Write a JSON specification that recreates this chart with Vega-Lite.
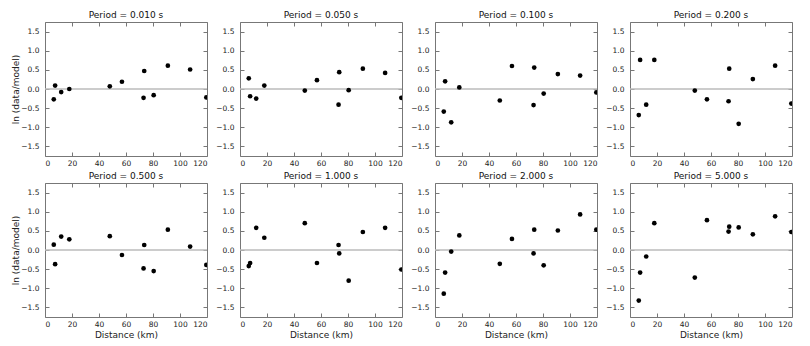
{
  "$schema": "https://vega.github.io/schema/vega-lite/v6.json",
  "background": "white",
  "padding": {"left": 11, "top": 10, "right": 5, "bottom": 5},
  "datasets": {
    "pts": [
      {"period":"0.010","d":6.5,"v":-0.27},{"period":"0.010","d":7.5,"v":0.09},{"period":"0.010","d":12,"v":-0.08},{"period":"0.010","d":18,"v":0.0},{"period":"0.010","d":48,"v":0.07},{"period":"0.010","d":57,"v":0.19},{"period":"0.010","d":73,"v":-0.23},{"period":"0.010","d":73.5,"v":0.47},{"period":"0.010","d":80.5,"v":-0.16},{"period":"0.010","d":91,"v":0.61},{"period":"0.010","d":107.5,"v":0.51},{"period":"0.010","d":119.5,"v":-0.22},
      {"period":"0.050","d":6.5,"v":0.28},{"period":"0.050","d":7.5,"v":-0.19},{"period":"0.050","d":12,"v":-0.25},{"period":"0.050","d":18,"v":0.09},{"period":"0.050","d":48,"v":-0.04},{"period":"0.050","d":57,"v":0.23},{"period":"0.050","d":73,"v":-0.41},{"period":"0.050","d":73.5,"v":0.44},{"period":"0.050","d":80.5,"v":-0.03},{"period":"0.050","d":91,"v":0.53},{"period":"0.050","d":107.5,"v":0.42},{"period":"0.050","d":119.5,"v":-0.23},
      {"period":"0.100","d":6.5,"v":-0.59},{"period":"0.100","d":7.5,"v":0.2},{"period":"0.100","d":12,"v":-0.87},{"period":"0.100","d":18,"v":0.04},{"period":"0.100","d":48,"v":-0.3},{"period":"0.100","d":57,"v":0.6},{"period":"0.100","d":73,"v":-0.42},{"period":"0.100","d":73.5,"v":0.56},{"period":"0.100","d":80.5,"v":-0.12},{"period":"0.100","d":91,"v":0.39},{"period":"0.100","d":107.5,"v":0.35},{"period":"0.100","d":119.5,"v":-0.09},
      {"period":"0.200","d":6.5,"v":-0.68},{"period":"0.200","d":7.5,"v":0.76},{"period":"0.200","d":12,"v":-0.41},{"period":"0.200","d":18,"v":0.76},{"period":"0.200","d":48,"v":-0.04},{"period":"0.200","d":57,"v":-0.27},{"period":"0.200","d":73,"v":-0.32},{"period":"0.200","d":73.5,"v":0.53},{"period":"0.200","d":80.5,"v":-0.91},{"period":"0.200","d":91,"v":0.26},{"period":"0.200","d":107.5,"v":0.61},{"period":"0.200","d":119.5,"v":-0.38},
      {"period":"0.500","d":6.5,"v":0.14},{"period":"0.500","d":7.5,"v":-0.37},{"period":"0.500","d":12,"v":0.35},{"period":"0.500","d":18,"v":0.28},{"period":"0.500","d":48,"v":0.36},{"period":"0.500","d":57,"v":-0.13},{"period":"0.500","d":73,"v":-0.48},{"period":"0.500","d":73.5,"v":0.13},{"period":"0.500","d":80.5,"v":-0.55},{"period":"0.500","d":91,"v":0.53},{"period":"0.500","d":107.5,"v":0.09},{"period":"0.500","d":119.5,"v":-0.39},
      {"period":"1.000","d":6.5,"v":-0.42},{"period":"1.000","d":7.5,"v":-0.34},{"period":"1.000","d":12,"v":0.58},{"period":"1.000","d":18,"v":0.32},{"period":"1.000","d":48,"v":0.7},{"period":"1.000","d":57,"v":-0.34},{"period":"1.000","d":73,"v":0.13},{"period":"1.000","d":73.5,"v":-0.09},{"period":"1.000","d":80.5,"v":-0.8},{"period":"1.000","d":91,"v":0.47},{"period":"1.000","d":107.5,"v":0.58},{"period":"1.000","d":119.5,"v":-0.51},
      {"period":"2.000","d":6.5,"v":-1.14},{"period":"2.000","d":7.5,"v":-0.59},{"period":"2.000","d":12,"v":-0.04},{"period":"2.000","d":18,"v":0.38},{"period":"2.000","d":48,"v":-0.36},{"period":"2.000","d":57,"v":0.29},{"period":"2.000","d":73,"v":-0.09},{"period":"2.000","d":73.5,"v":0.53},{"period":"2.000","d":80.5,"v":-0.4},{"period":"2.000","d":91,"v":0.51},{"period":"2.000","d":107.5,"v":0.93},{"period":"2.000","d":119.5,"v":0.53},
      {"period":"5.000","d":6.5,"v":-1.32},{"period":"5.000","d":7.5,"v":-0.59},{"period":"5.000","d":12,"v":-0.17},{"period":"5.000","d":18,"v":0.7},{"period":"5.000","d":48,"v":-0.72},{"period":"5.000","d":57,"v":0.78},{"period":"5.000","d":73,"v":0.48},{"period":"5.000","d":73.5,"v":0.61},{"period":"5.000","d":80.5,"v":0.59},{"period":"5.000","d":91,"v":0.41},{"period":"5.000","d":107.5,"v":0.88},{"period":"5.000","d":119.5,"v":0.47}
    ]
  },
  "columns": 4,
  "spacing": {"row": 27, "column": 33},
  "bounds": "flush",
  "concat": [
        {"width":162,"height":134,"title":"Period = 0.010 s","layer":[
          {"data":{"values":[{}]},"mark":{"type":"rule","color":"#bbbbbb","strokeWidth":1.5},"encoding":{"y":{"datum":0,"type":"quantitative","axis":null}}},
          {"data":{"name":"pts"},"transform":[{"filter":"datum.period==='0.010'"}],"mark":{"type":"circle","color":"black","size":22,"opacity":1,"clip":true},"encoding":{"x":{"field":"d","type":"quantitative","scale":{"domain":[0,120],"nice":false},"axis":{"orient":"bottom","values":[0,20,40,60,80,100,120],"title":null}},"y":{"field":"v","type":"quantitative","scale":{"domain":[-1.75,1.75],"nice":false},"axis":{"orient":"left","values":[-1.5,-1,-0.5,0,0.5,1,1.5],"format":".1f","title":"ln (data/model)"}}}},
          {"data":{"name":"pts"},"transform":[{"filter":"datum.period==='0.010'"}],"mark":{"type":"circle","opacity":0},"encoding":{"x":{"field":"d","type":"quantitative","axis":{"orient":"top","values":[0,20,40,60,80,100,120],"labels":false,"title":null}},"y":{"field":"v","type":"quantitative","axis":{"orient":"right","values":[-1.5,-1,-0.5,0,0.5,1,1.5],"labels":false,"title":null}}}}
        ]},
        {"width":162,"height":134,"title":"Period = 0.050 s","layer":[
          {"data":{"values":[{}]},"mark":{"type":"rule","color":"#bbbbbb","strokeWidth":1.5},"encoding":{"y":{"datum":0,"type":"quantitative","axis":null}}},
          {"data":{"name":"pts"},"transform":[{"filter":"datum.period==='0.050'"}],"mark":{"type":"circle","color":"black","size":22,"opacity":1,"clip":true},"encoding":{"x":{"field":"d","type":"quantitative","scale":{"domain":[0,120],"nice":false},"axis":{"orient":"bottom","values":[0,20,40,60,80,100,120],"title":null}},"y":{"field":"v","type":"quantitative","scale":{"domain":[-1.75,1.75],"nice":false},"axis":{"orient":"left","values":[-1.5,-1,-0.5,0,0.5,1,1.5],"format":".1f","title":null}}}},
          {"data":{"name":"pts"},"transform":[{"filter":"datum.period==='0.050'"}],"mark":{"type":"circle","opacity":0},"encoding":{"x":{"field":"d","type":"quantitative","axis":{"orient":"top","values":[0,20,40,60,80,100,120],"labels":false,"title":null}},"y":{"field":"v","type":"quantitative","axis":{"orient":"right","values":[-1.5,-1,-0.5,0,0.5,1,1.5],"labels":false,"title":null}}}}
        ]},
        {"width":162,"height":134,"title":"Period = 0.100 s","layer":[
          {"data":{"values":[{}]},"mark":{"type":"rule","color":"#bbbbbb","strokeWidth":1.5},"encoding":{"y":{"datum":0,"type":"quantitative","axis":null}}},
          {"data":{"name":"pts"},"transform":[{"filter":"datum.period==='0.100'"}],"mark":{"type":"circle","color":"black","size":22,"opacity":1,"clip":true},"encoding":{"x":{"field":"d","type":"quantitative","scale":{"domain":[0,120],"nice":false},"axis":{"orient":"bottom","values":[0,20,40,60,80,100,120],"title":null}},"y":{"field":"v","type":"quantitative","scale":{"domain":[-1.75,1.75],"nice":false},"axis":{"orient":"left","values":[-1.5,-1,-0.5,0,0.5,1,1.5],"format":".1f","title":null}}}},
          {"data":{"name":"pts"},"transform":[{"filter":"datum.period==='0.100'"}],"mark":{"type":"circle","opacity":0},"encoding":{"x":{"field":"d","type":"quantitative","axis":{"orient":"top","values":[0,20,40,60,80,100,120],"labels":false,"title":null}},"y":{"field":"v","type":"quantitative","axis":{"orient":"right","values":[-1.5,-1,-0.5,0,0.5,1,1.5],"labels":false,"title":null}}}}
        ]},
        {"width":162,"height":134,"title":"Period = 0.200 s","layer":[
          {"data":{"values":[{}]},"mark":{"type":"rule","color":"#bbbbbb","strokeWidth":1.5},"encoding":{"y":{"datum":0,"type":"quantitative","axis":null}}},
          {"data":{"name":"pts"},"transform":[{"filter":"datum.period==='0.200'"}],"mark":{"type":"circle","color":"black","size":22,"opacity":1,"clip":true},"encoding":{"x":{"field":"d","type":"quantitative","scale":{"domain":[0,120],"nice":false},"axis":{"orient":"bottom","values":[0,20,40,60,80,100,120],"title":null}},"y":{"field":"v","type":"quantitative","scale":{"domain":[-1.75,1.75],"nice":false},"axis":{"orient":"left","values":[-1.5,-1,-0.5,0,0.5,1,1.5],"format":".1f","title":null}}}},
          {"data":{"name":"pts"},"transform":[{"filter":"datum.period==='0.200'"}],"mark":{"type":"circle","opacity":0},"encoding":{"x":{"field":"d","type":"quantitative","axis":{"orient":"top","values":[0,20,40,60,80,100,120],"labels":false,"title":null}},"y":{"field":"v","type":"quantitative","axis":{"orient":"right","values":[-1.5,-1,-0.5,0,0.5,1,1.5],"labels":false,"title":null}}}}
        ]},
        {"width":162,"height":134,"title":"Period = 0.500 s","layer":[
          {"data":{"values":[{}]},"mark":{"type":"rule","color":"#bbbbbb","strokeWidth":1.5},"encoding":{"y":{"datum":0,"type":"quantitative","axis":null}}},
          {"data":{"name":"pts"},"transform":[{"filter":"datum.period==='0.500'"}],"mark":{"type":"circle","color":"black","size":22,"opacity":1,"clip":true},"encoding":{"x":{"field":"d","type":"quantitative","scale":{"domain":[0,120],"nice":false},"axis":{"orient":"bottom","values":[0,20,40,60,80,100,120],"title":"Distance (km)"}},"y":{"field":"v","type":"quantitative","scale":{"domain":[-1.75,1.75],"nice":false},"axis":{"orient":"left","values":[-1.5,-1,-0.5,0,0.5,1,1.5],"format":".1f","title":"ln (data/model)"}}}},
          {"data":{"name":"pts"},"transform":[{"filter":"datum.period==='0.500'"}],"mark":{"type":"circle","opacity":0},"encoding":{"x":{"field":"d","type":"quantitative","axis":{"orient":"top","values":[0,20,40,60,80,100,120],"labels":false,"title":null}},"y":{"field":"v","type":"quantitative","axis":{"orient":"right","values":[-1.5,-1,-0.5,0,0.5,1,1.5],"labels":false,"title":null}}}}
        ]},
        {"width":162,"height":134,"title":"Period = 1.000 s","layer":[
          {"data":{"values":[{}]},"mark":{"type":"rule","color":"#bbbbbb","strokeWidth":1.5},"encoding":{"y":{"datum":0,"type":"quantitative","axis":null}}},
          {"data":{"name":"pts"},"transform":[{"filter":"datum.period==='1.000'"}],"mark":{"type":"circle","color":"black","size":22,"opacity":1,"clip":true},"encoding":{"x":{"field":"d","type":"quantitative","scale":{"domain":[0,120],"nice":false},"axis":{"orient":"bottom","values":[0,20,40,60,80,100,120],"title":"Distance (km)"}},"y":{"field":"v","type":"quantitative","scale":{"domain":[-1.75,1.75],"nice":false},"axis":{"orient":"left","values":[-1.5,-1,-0.5,0,0.5,1,1.5],"format":".1f","title":null}}}},
          {"data":{"name":"pts"},"transform":[{"filter":"datum.period==='1.000'"}],"mark":{"type":"circle","opacity":0},"encoding":{"x":{"field":"d","type":"quantitative","axis":{"orient":"top","values":[0,20,40,60,80,100,120],"labels":false,"title":null}},"y":{"field":"v","type":"quantitative","axis":{"orient":"right","values":[-1.5,-1,-0.5,0,0.5,1,1.5],"labels":false,"title":null}}}}
        ]},
        {"width":162,"height":134,"title":"Period = 2.000 s","layer":[
          {"data":{"values":[{}]},"mark":{"type":"rule","color":"#bbbbbb","strokeWidth":1.5},"encoding":{"y":{"datum":0,"type":"quantitative","axis":null}}},
          {"data":{"name":"pts"},"transform":[{"filter":"datum.period==='2.000'"}],"mark":{"type":"circle","color":"black","size":22,"opacity":1,"clip":true},"encoding":{"x":{"field":"d","type":"quantitative","scale":{"domain":[0,120],"nice":false},"axis":{"orient":"bottom","values":[0,20,40,60,80,100,120],"title":"Distance (km)"}},"y":{"field":"v","type":"quantitative","scale":{"domain":[-1.75,1.75],"nice":false},"axis":{"orient":"left","values":[-1.5,-1,-0.5,0,0.5,1,1.5],"format":".1f","title":null}}}},
          {"data":{"name":"pts"},"transform":[{"filter":"datum.period==='2.000'"}],"mark":{"type":"circle","opacity":0},"encoding":{"x":{"field":"d","type":"quantitative","axis":{"orient":"top","values":[0,20,40,60,80,100,120],"labels":false,"title":null}},"y":{"field":"v","type":"quantitative","axis":{"orient":"right","values":[-1.5,-1,-0.5,0,0.5,1,1.5],"labels":false,"title":null}}}}
        ]},
        {"width":162,"height":134,"title":"Period = 5.000 s","layer":[
          {"data":{"values":[{}]},"mark":{"type":"rule","color":"#bbbbbb","strokeWidth":1.5},"encoding":{"y":{"datum":0,"type":"quantitative","axis":null}}},
          {"data":{"name":"pts"},"transform":[{"filter":"datum.period==='5.000'"}],"mark":{"type":"circle","color":"black","size":22,"opacity":1,"clip":true},"encoding":{"x":{"field":"d","type":"quantitative","scale":{"domain":[0,120],"nice":false},"axis":{"orient":"bottom","values":[0,20,40,60,80,100,120],"title":"Distance (km)"}},"y":{"field":"v","type":"quantitative","scale":{"domain":[-1.75,1.75],"nice":false},"axis":{"orient":"left","values":[-1.5,-1,-0.5,0,0.5,1,1.5],"format":".1f","title":null}}}},
          {"data":{"name":"pts"},"transform":[{"filter":"datum.period==='5.000'"}],"mark":{"type":"circle","opacity":0},"encoding":{"x":{"field":"d","type":"quantitative","axis":{"orient":"top","values":[0,20,40,60,80,100,120],"labels":false,"title":null}},"y":{"field":"v","type":"quantitative","axis":{"orient":"right","values":[-1.5,-1,-0.5,0,0.5,1,1.5],"labels":false,"title":null}}}}
        ]}
  ],
  "config": {
    "font": "DejaVu Sans",
    "view": {"stroke": "#777777", "strokeWidth": 1},
    "axis": {"grid": false, "domain": false, "tickColor": "#777777", "tickSize": -4, "tickWidth": 1, "labelFontSize": 7.5, "labelColor": "#222222", "titleFontSize": 9, "titleFontWeight": "normal", "titleColor": "#222222"},
    "axisX": {"labelPadding": 7, "titlePadding": 3},
    "axisY": {"labelPadding": 10, "titlePadding": 0},
    "title": {"fontSize": 9, "fontWeight": "normal", "color": "#111111", "offset": 2}
  }
}
